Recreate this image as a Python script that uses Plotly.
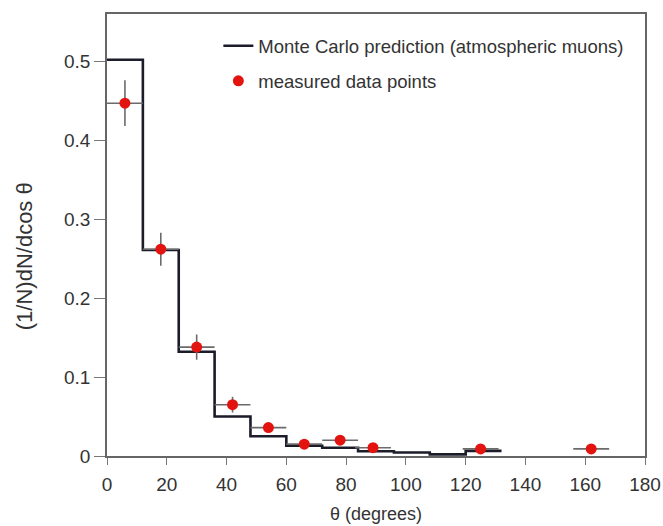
import plotly.graph_objects as go

# Monte Carlo prediction histogram (bin edges in degrees, bin values)
mc_edges = [0, 12, 24, 36, 48, 60, 72, 84, 96, 108, 120, 132]
mc_values = [0.502, 0.261, 0.132, 0.050, 0.025, 0.013, 0.0105, 0.006, 0.0045, 0.002, 0.0065]

# Measured data points
theta = [6, 18, 30, 42, 54, 66, 78, 89, 125, 162]
dens = [0.447, 0.262, 0.138, 0.065, 0.036, 0.015, 0.020, 0.0105, 0.009, 0.009]
dens_err = [0.029, 0.021, 0.016, 0.010, 0.006, 0.004, 0.004, 0.003, 0.003, 0.003]
theta_err = [6, 6, 6, 6, 6, 6, 6, 6, 6, 6]

x_ticks = [0, 20, 40, 60, 80, 100, 120, 140, 160, 180]
y_ticks = [0, 0.1, 0.2, 0.3, 0.4, 0.5]
y_tick_text = ["0", "0.1", "0.2", "0.3", "0.4", "0.5"]

FONT = "Liberation Sans, Arial, sans-serif"

step_x = mc_edges
step_y = mc_values + [mc_values[-1]]

fig = go.Figure()
fig.add_trace(go.Scatter(
    x=step_x, y=step_y, mode="lines", line_shape="hv",
    line=dict(color="#1b1b2a", width=2.6),
    name="Monte Carlo prediction (atmospheric muons)",
    legendgroup="a",
))
fig.add_trace(go.Scatter(
    x=theta, y=dens, mode="markers",
    marker=dict(color="#e3140f", size=11, line=dict(width=0)),
    error_y=dict(type="data", array=dens_err, color="#6b6b6b", thickness=1.6, width=0),
    error_x=dict(type="data", array=theta_err, color="#6b6b6b", thickness=1.6, width=0),
    name="measured data points",
    legendgroup="b",
))

fig.add_annotation(
    text="(1/N)dN/dcos θ", textangle=-90, showarrow=False,
    xref="paper", yref="paper", x=-0.152, y=0.4525,
    xanchor="center", yanchor="middle",
    font=dict(size=22, color="#333333"),
)

fig.update_layout(
    width=663, height=526,
    margin=dict(l=107, r=18, t=14, b=70),
    paper_bgcolor="white", plot_bgcolor="white",
    font=dict(family=FONT, color="#333333"),
    showlegend=True,
    legend=dict(
        x=0.207, y=0.97, xanchor="left", yanchor="top",
        bgcolor="rgba(0,0,0,0)", borderwidth=0,
        font=dict(size=18.5, color="#333333"),
        tracegroupgap=8,
    ),
    xaxis=dict(
        range=[0, 180], tickvals=x_ticks, ticks="outside", ticklen=7,
        tickwidth=1.3, tickcolor="#777777",
        showline=True, linecolor="#666666", linewidth=1.5, mirror=True,
        showgrid=False, zeroline=False, automargin=False,
        tickfont=dict(size=19, color="#333333"),
        ticklabelstandoff=3,
        title=dict(text="θ (degrees)", font=dict(size=18, color="#333333"), standoff=14),
    ),
    yaxis=dict(
        range=[0, 0.56], tickvals=y_ticks, ticktext=y_tick_text,
        ticks="outside", ticklen=11, tickwidth=1.3, tickcolor="#777777",
        showline=True, linecolor="#666666", linewidth=1.5, mirror=True,
        showgrid=False, zeroline=False, automargin=False,
        tickfont=dict(size=19, color="#333333"),
    ),
)

fig.write_html("out.html")
